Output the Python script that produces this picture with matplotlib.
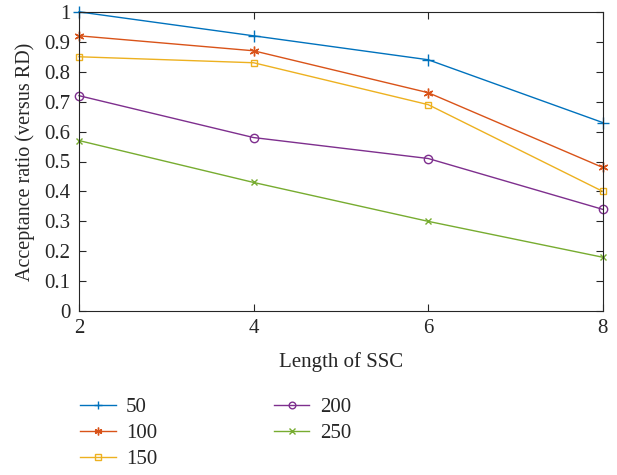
import matplotlib
matplotlib.use("Agg")
import matplotlib.pyplot as plt

plt.rcParams['font.family'] = ['Liberation Serif', 'DejaVu Serif']

x = [2, 4, 6, 8]
labels = ['50', '100', '150', '200', '250']
s50 = [1.00, 0.92, 0.84, 0.63]
s100 = [0.92, 0.87, 0.73, 0.48]
s150 = [0.85, 0.83, 0.69, 0.40]
s200 = [0.72, 0.58, 0.51, 0.34]
s250 = [0.57, 0.43, 0.30, 0.18]
series = [s50, s100, s150, s200, s250]
colors = ['#0072BD', '#D95319', '#EDB120', '#7E2F8E', '#77AC30']
markers = ['+', (6, 2, 0), 's', 'o', 'x']
msizes = [8, 7, 5, 6, 5]
yticks = [0, 0.1, 0.2, 0.3, 0.4, 0.5, 0.6, 0.7, 0.8, 0.9, 1]
ytick_labels = ['0', '0.1', '0.2', '0.3', '0.4', '0.5', '0.6', '0.7', '0.8', '0.9', '1']

fig = plt.figure(figsize=(6.17, 4.75), dpi=100)
ax = fig.add_axes([0.128, 0.345, 0.849, 0.63])
for s, c, m, ms, lab in zip(series, colors, markers, msizes, labels):
    ax.plot(x, s, color=c, marker=m, markersize=ms, markerfacecolor='none',
            markeredgewidth=1.0, linewidth=1.0, label=lab, clip_on=False)

ax.set_xlim(2, 8)
ax.set_ylim(0, 1)
ax.set_xticks([2, 4, 6, 8])
ax.set_yticks(yticks)
ax.set_yticklabels(ytick_labels)
ax.tick_params(direction='in', top=True, right=True, labelsize=15, length=5,
               color='#262626', labelcolor='#262626', width=0.8)
ax.tick_params(axis='y', pad=6)
ax.tick_params(axis='x', pad=6)
for sp in ax.spines.values():
    sp.set_color('#262626')
    sp.set_linewidth(0.8)
ax.set_xlabel('Length of SSC', fontsize=15, color='#262626', labelpad=10)
ax.set_ylabel('Acceptance ratio (versus RD)', fontsize=14.5, color='#262626', labelpad=7)

leg = fig.legend(loc='upper left', bbox_to_anchor=(0.13, 0.163), ncol=2, frameon=False,
                 fontsize=15, handlelength=1.7, columnspacing=5.6, labelspacing=0.3,
                 handletextpad=0.5, borderpad=0, borderaxespad=0, markerscale=0.8)
for t in leg.get_texts():
    t.set_color('#262626')

fig.savefig('out.png', dpi=100)
